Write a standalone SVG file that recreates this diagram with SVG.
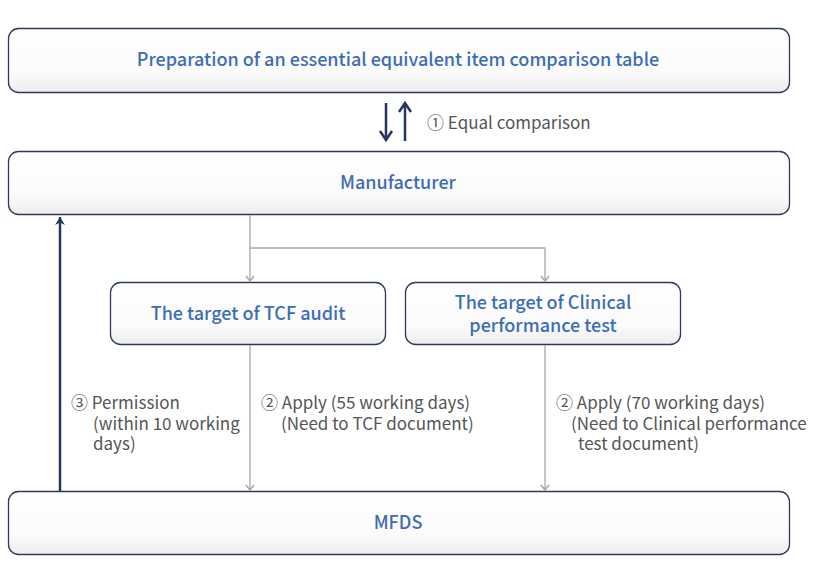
<svg xmlns="http://www.w3.org/2000/svg" width="830" height="580" viewBox="0 0 830 580">
<defs>
<linearGradient id="g" x1="0" y1="0" x2="0" y2="1">
<stop offset="0" stop-color="#ffffff"/>
<stop offset="0.7" stop-color="#fbfbfb"/>
<stop offset="1" stop-color="#ececec"/>
</linearGradient>
<marker id="ga" viewBox="0 0 10 10" refX="9" refY="5" markerWidth="10" markerHeight="10" markerUnits="userSpaceOnUse" orient="auto">
<path d="M4,1 L9,5 L4,9" fill="none" stroke="#a8a8a8" stroke-width="1.6"/>
</marker>
<marker id="na" viewBox="0 0 12 12" refX="11" refY="6" markerWidth="12" markerHeight="12" markerUnits="userSpaceOnUse" orient="auto">
<path d="M3,1 L11,6 L3,11 L5.5,6 Z" fill="#25375f"/>
</marker>
</defs>
<style>
.box{fill:url(#g);stroke:#2b3a5e;stroke-width:1.3}
.t{font-family:"Noto Sans CJK KR","Noto Sans",sans-serif;font-size:18px;font-weight:500;fill:#3c6db5;text-anchor:middle}
.l{font-family:"Noto Sans CJK KR","Noto Sans",sans-serif;font-size:17px;fill:#555555}
.gl{fill:none;stroke:#a8a8a8;stroke-width:1.3}
.nv{fill:none;stroke:#25375f;stroke-width:2.5}
</style>
<g id="node-prep">
<rect class="box" x="8.5" y="28.5" width="781" height="64" rx="10"/>
<text class="t" x="398" y="66">Preparation of an essential equivalent item comparison table</text>
</g>
<g id="node-manufacturer">
<rect class="box" x="8.5" y="151.5" width="781" height="63" rx="10"/>
<text class="t" x="398" y="189">Manufacturer</text>
</g>
<g id="node-tcf">
<rect class="box" x="110.5" y="282.5" width="275" height="62" rx="10"/>
<text class="t" x="248" y="320">The target of TCF audit</text>
</g>
<g id="node-clinical">
<rect class="box" x="405.5" y="282.5" width="275" height="62" rx="10"/>
<text class="t" x="543" y="309">The target of Clinical</text>
<text class="t" x="543" y="332">performance test</text>
</g>
<g id="node-mfds">
<rect class="box" x="8.5" y="491.5" width="781" height="63" rx="10"/>
<text class="t" x="398" y="529">MFDS</text>
</g>
<g id="connectors">
<path class="nv" d="M386,103 V139 M380,131 L386,140 L392,131"/>
<path class="nv" d="M405,141 V104 M399,112 L405,103 L411,112"/>
<path class="gl" d="M250,215 V248 H545 V281" marker-end="url(#ga)"/>
<path class="gl" d="M250,248 V281" marker-end="url(#ga)"/>
<path class="gl" d="M250,345 V490" marker-end="url(#ga)"/>
<path class="gl" d="M545,345 V490" marker-end="url(#ga)"/>
<path class="nv" d="M60,491 V217" marker-end="url(#na)"/>
</g>
<g id="labels">
<text class="l" x="427" y="129">① Equal comparison</text>
<text class="l" x="71" y="409">③ Permission</text>
<text class="l" x="93" y="429.5">(within 10 working</text>
<text class="l" x="93" y="450">days)</text>
<text class="l" x="261" y="409">② Apply (55 working days)</text>
<text class="l" x="281" y="429.5">(Need to TCF document)</text>
<text class="l" x="556" y="409">② Apply (70 working days)</text>
<text class="l" x="571" y="429.5">(Need to Clinical performance</text>
<text class="l" x="578" y="450">test document)</text>
</g>
</svg>
